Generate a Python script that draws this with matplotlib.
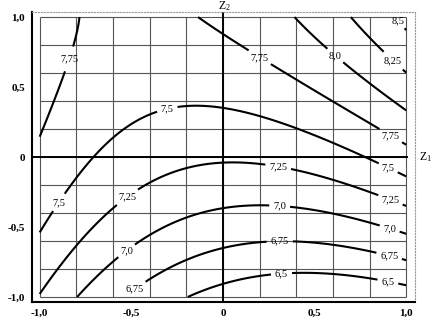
"""
Response surface contour plot in coded factors Z1, Z2.
Renders out.png (436x320).
"""

import numpy as np
import matplotlib

matplotlib.use("Agg")
import matplotlib.pyplot as plt

# ---------------------------------------------------------------------------
# Data
# ---------------------------------------------------------------------------

# y = b0 + b1*Z1 + b2*Z2 + b12*Z1*Z2 + b11*Z1^2 + b22*Z2^2
coef_names = ["b0", "b1", "b2", "b12", "b11", "b22"]
coef_values = [7.278, -0.028, 0.695, 0.40, 0.405, -0.18]

levels = [6.5, 6.75, 7.0, 7.25, 7.5, 7.75, 8.0, 8.25, 8.5]

# where the inline contour labels sit (Z1, Z2)
label_z1 = [-0.86, 0.19, 0.91, 0.59, 0.93, 0.92, -0.30, -0.90, 0.89,
            -0.52, 0.30, 0.91, -0.52, 0.31, 0.91, -0.50, 0.31, 0.91,
            0.32, 0.90]
label_z2 = [0.71, 0.69, 0.14, 0.69, 0.69, 0.94, 0.32, -0.32, -0.11,
            -0.29, -0.08, -0.32, -0.68, -0.34, -0.51, -0.91, -0.61, -0.69,
            -0.84, -0.89]

tick_values = [-1.0, -0.5, 0.0, 0.5, 1.0]
tick_labels = ["-1,0", "-0,5", "0", "0,5", "1,0"]


def fmt_level(v: float) -> str:
    s = f"{v:.2f}".rstrip("0")
    if s.endswith("."):
        s += "0"
    return s.replace(".", ",")


def main() -> None:
    plt.rcParams["font.family"] = ["Liberation Serif", "DejaVu Serif"]
    plt.rcParams["mathtext.fontset"] = "stix"

    c = dict(zip(coef_names, coef_values))
    z1 = np.linspace(-1, 1, 241)
    Z1, Z2 = np.meshgrid(z1, z1)
    Y = (c["b0"] + c["b1"] * Z1 + c["b2"] * Z2 + c["b12"] * Z1 * Z2
         + c["b11"] * Z1 ** 2 + c["b22"] * Z2 ** 2)

    fig = plt.figure(figsize=(4.36, 3.2), dpi=100)
    ax = fig.add_axes([0.0734, 0.05625, 0.878, 0.906])
    ax.set_xlim(-1.042, 1.047)
    ax.set_ylim(-1.036, 1.036)

    # grid inside the [-1, 1] square
    grid = np.linspace(-1, 1, 11)
    ax.vlines(grid, -1, 1, color="#555555", lw=0.8, zorder=1)
    ax.hlines(grid, -1, 1, color="#555555", lw=0.8, zorder=1)
    # coordinate axes
    ax.axhline(0, xmin=0.0, xmax=0.98, color="black", lw=1.4, zorder=2)
    ax.axvline(0, color="black", lw=1.4, zorder=2)

    cs = ax.contour(Z1, Z2, Y, levels=levels, colors="black",
                    linewidths=1.5, zorder=3)
    texts = ax.clabel(cs, levels=levels, fmt=fmt_level, fontsize=7.5,
                      inline=True, inline_spacing=4,
                      manual=list(zip(label_z1, label_z2)))
    for t in texts:
        t.set_rotation(0)

    ax.set_xticks(tick_values, tick_labels)
    ax.set_yticks(tick_values, tick_labels)
    ax.tick_params(length=0, labelsize=8, pad=5)
    for lab in ax.get_xticklabels() + ax.get_yticklabels():
        lab.set_fontweight("bold")

    for side in ("left", "bottom"):
        ax.spines[side].set_linewidth(1.5)
    for side in ("top", "right"):
        ax.spines[side].set_color("#999999")
        ax.spines[side].set_linewidth(0.8)
        ax.spines[side].set_linestyle(":")

    ax.text(-0.025, 1.08, r"$\mathregular{Z_2}$", fontsize=8.5, ha="left",
            va="center", clip_on=False)
    ax.text(1.07, 0.0, r"$\mathregular{Z_1}$", fontsize=8.5, ha="left",
            va="center", clip_on=False)

    fig.savefig("out.png", dpi=100)
    plt.close(fig)


if __name__ == "__main__":
    main()
